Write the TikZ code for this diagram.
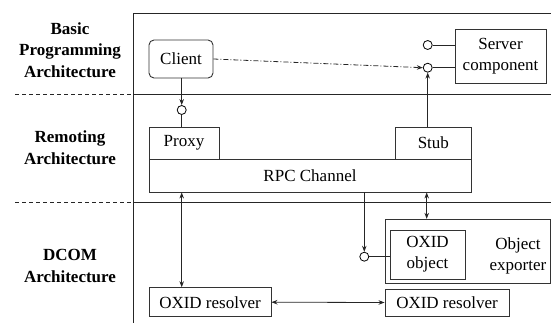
\documentclass[tikz,border=0pt]{standalone}
\usepackage{fontspec}
\setmainfont{Liberation Serif}
\usetikzlibrary{arrows.meta}
\begin{document}
\begin{tikzpicture}[x=1pt,y=-1pt,
  every node/.style={font=\fontsize{17}{21}\selectfont},
  box/.style={draw=black!80,line width=0.9pt,inner sep=0pt,align=center},
  port/.style={draw=black,line width=0.8pt,circle,inner sep=0pt,minimum size=9pt,fill=white},
  frame/.style={line width=0.9pt,draw=black!85},
  sep/.style={line width=0.9pt,dashed,dash pattern=on 4pt off 3pt},
  lbl/.style={font=\fontsize{17}{21.5}\selectfont\bfseries,align=center},
  conn/.style={line width=0.8pt,draw=black!85},
  tip/.style={-{Stealth[length=6pt,width=4.5pt]}},
  tips/.style={{Stealth[length=6pt,width=4.5pt]}-{Stealth[length=6pt,width=4.5pt]}}
]
\useasboundingbox (0,0) rectangle (551,323);
% frame
\coordinate (ftl) at (133.3,13.3);
\coordinate (ftr) at (551,13.3);
\coordinate (fbl) at (133.3,323);
\coordinate (s1l) at (15,94.3);
\coordinate (s1m) at (133.3,94.3);
\coordinate (s1r) at (551,94.3);
\coordinate (s2l) at (15,202.7);
\coordinate (s2m) at (133.3,202.7);
\coordinate (s2r) at (551,202.7);
\draw[frame] (ftr) -- (ftl) -- (fbl);
\draw[frame] (s1m) -- (s1r);
\draw[frame] (s2m) -- (s2r);
\draw[frame,sep] (s1l) -- (s1m);
\draw[frame,sep] (s2l) -- (s2m);
% labels
\node[lbl] (l1) at (70,50) {Basic\\Programming\\Architecture};
\node[lbl] (l2) at (70,147.5) {Remoting\\Architecture};
\node[lbl] (l3) at (70,266) {DCOM\\Architecture};
% boxes
\node[box,rounded corners=5pt,minimum width=64pt,minimum height=38pt] (client) at (181,59) {Client};
\node[box,minimum width=70pt,minimum height=32pt] (proxy) at (184,143) {Proxy};
\node[box,minimum width=75.3pt,minimum height=32pt] (stub) at (433.35,143) {Stub};
\node[box,minimum width=322pt,minimum height=33pt] (rpc) at (310,175.5) {RPC Channel};
\node[box,minimum width=91pt,minimum height=54pt] (server) at (500.5,56) {Server\\component};
\node[box,minimum width=165pt,minimum height=64pt] (exp) at (467.5,251.3) {};
\node[font=\fontsize{17}{21}\selectfont,align=center] (exptxt) at (518,255.5) {Object\\exporter};
\node[box,minimum width=75pt,minimum height=49pt] (oxobj) at (427.5,254.5) {OXID\\object};
\node[box,minimum width=122pt,minimum height=29pt] (res1) at (210,302.2) {OXID resolver};
\node[box,minimum width=124pt,minimum height=27pt] (res2) at (447,302.5) {OXID resolver};
% ports
\node[port] (c1) at (427.7,45) {};
\node[port] (c2) at (427.7,67.7) {};
\node[port] (c3) at (181.7,110) {};
\node[port] (c4) at (364.3,256.7) {};
% connectors
\draw[conn,tip] (client.south -| c3) -- (c3.north);
\draw[conn] (c3.south) -- (c3.south |- proxy.north);
\draw[conn,tip,dash pattern=on 5pt off 2pt on 1pt off 2pt] (client.east) -- (c2.west);
\draw[conn,tip] (c2.south |- stub.north) -- (c2.south);
\draw[conn] (c1.east) -- (c1 -| server.west);
\draw[conn] (c2.east) -- (c2 -| server.west);
\draw[conn,tips] (c3 |- rpc.south) -- (c3 |- res1.north);
\coordinate (ex) at (426.7,0);
\draw[conn,tips] (ex |- rpc.south) -- (ex |- exp.north);
\draw[conn,tip] (c4 |- rpc.south) -- (c4.north);
\draw[conn] (c4.east) -- (c4 -| oxobj.west);
\draw[conn,tips] (res1.east) -- (res2.west);
\end{tikzpicture}
\end{document}
